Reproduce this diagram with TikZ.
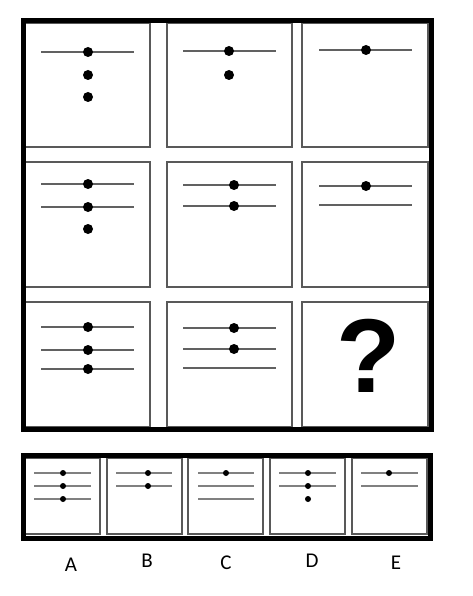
\documentclass[tikz,border=0pt]{standalone}
\usepackage{fontspec}
\usepackage{tikz}
\newfontfamily\labelfont{Carlito}
\newfontfamily\qfont{Liberation Sans}

\begin{document}
\begin{tikzpicture}[
        x = 1pt, y = -1pt,
        frame/.style = {draw=black, line width=5pt},
        cell/.style = {draw=black!65, line width=1.5pt},
        bar/.style = {draw=black!62, line width=2pt},
        dot/.style = {circle, fill=black, inner sep=0pt, minimum size=10pt},
        smallbar/.style = {draw=black!50, line width=1.3pt},
        smalldot/.style = {circle, fill=black, inner sep=0pt, minimum size=6pt},
        letter/.style = {font=\labelfont\fontsize{21}{21}\selectfont, inner sep=0pt}
    ]
    \useasboundingbox (0,0) rectangle (472,596);

    % puzzle grid
    \foreach \xa/\xb in {25/150, 167/292, 302/428}
        \foreach \ya/\yb in {23/147, 162/287, 302/427}
            \draw[cell] (\xa,\ya) rectangle (\xb,\yb);
    \draw[frame] (23,20.5) rectangle (431,429);

    % row 1
    \draw[bar] (41,52) -- (134,52);
    \node[dot] (d11a) at (88,52) {};
    \node[dot] (d11b) at (88,75) {};
    \node[dot] (d11c) at (88,97) {};

    \draw[bar] (183,51) -- (276,51);
    \node[dot] (d12a) at (229,51) {};
    \node[dot] (d12b) at (229,75) {};

    \draw[bar] (319,50) -- (412,50);
    \node[dot] (d13a) at (366,50) {};

    % row 2
    \draw[bar] (41,184) -- (134,184);
    \draw[bar] (41,207) -- (134,207);
    \node[dot] (d21a) at (88,184) {};
    \node[dot] (d21b) at (88,207) {};
    \node[dot] (d21c) at (88,229) {};

    \draw[bar] (183,185) -- (276,185);
    \draw[bar] (183,206) -- (276,206);
    \node[dot] (d22a) at (234,185) {};
    \node[dot] (d22b) at (234,206) {};

    \draw[bar] (319,186) -- (412,186);
    \draw[bar] (319,205) -- (412,205);
    \node[dot] (d23a) at (366,186) {};

    % row 3
    \draw[bar] (41,327) -- (134,327);
    \draw[bar] (41,350) -- (134,350);
    \draw[bar] (41,369) -- (134,369);
    \node[dot] (d31a) at (88,327) {};
    \node[dot] (d31b) at (88,350) {};
    \node[dot] (d31c) at (88,369) {};

    \draw[bar] (183,328) -- (276,328);
    \draw[bar] (183,349) -- (276,349);
    \draw[bar] (183,368) -- (276,368);
    \node[dot] (d32a) at (234,328) {};
    \node[dot] (d32b) at (234,349) {};

    \node[inner sep=0pt, font=\qfont\bfseries\fontsize{105}{105}\selectfont] (q) at (369,356) {?};

    % answers
    \foreach \xa/\xb in {25/100, 107/182, 188/263, 270/345, 352/427}
        \draw[cell] (\xa,458) rectangle (\xb,534);
    \draw[frame] (23,455.5) rectangle (430,538);

    \foreach \y in {473, 486, 499} {
        \draw[smallbar] (34,\y) -- (91,\y);
        \node[smalldot] at (63,\y) {};
    }
    \foreach \y in {473, 486} {
        \draw[smallbar] (116,\y) -- (172,\y);
        \node[smalldot] at (148,\y) {};
    }
    \foreach \y in {473, 486, 499}
        \draw[smallbar] (198,\y) -- (254,\y);
    \node[smalldot] (c1) at (226,473) {};
    \foreach \y in {473, 486}
        \draw[smallbar] (279,\y) -- (336,\y);
    \foreach \y in {473, 486, 499}
        \node[smalldot] at (308,\y) {};
    \foreach \y in {473, 486}
        \draw[smallbar] (361,\y) -- (418,\y);
    \node[smalldot] (e1) at (389,473) {};

    % labels
    \node[letter] (A) at (71,565) {A};
    \node[letter] (B) at (147,561) {B};
    \node[letter] (C) at (226,563) {C};
    \node[letter] (D) at (312,561) {D};
    \node[letter] (E) at (396,563) {E};

\end{tikzpicture}
\end{document}
